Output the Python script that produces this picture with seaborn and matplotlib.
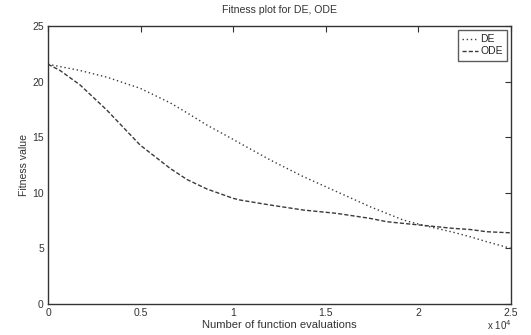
import matplotlib
matplotlib.use("Agg")
import matplotlib.pyplot as plt
import seaborn as sns
import pandas as pd

evals = [0.0, 0.065, 0.173, 0.317, 0.497, 0.659, 0.75, 0.857, 1.0, 1.037, 1.2, 1.379, 1.559, 1.739, 1.829, 1.918, 2.009, 2.099, 2.189, 2.279, 2.369, 2.5]
de = [21.56, 21.35, 21.0, 20.4, 19.4, 18.1, 17.2, 16.1, 14.8, 14.45, 12.95, 11.45, 10.1, 8.75, 8.15, 7.55, 7.15, 6.8, 6.45, 6.05, 5.6, 5.0]
ode = [21.56, 21.0, 19.7, 17.45, 14.3, 12.2, 11.2, 10.35, 9.5, 9.35, 8.9, 8.45, 8.15, 7.7, 7.4, 7.25, 7.1, 6.95, 6.8, 6.7, 6.5, 6.4]
series = ["DE", "ODE"]

df = pd.concat([
    pd.DataFrame({"x": evals, "y": de, "method": series[0]}),
    pd.DataFrame({"x": evals, "y": ode, "method": series[1]}),
])

sns.set_style("white")
plt.rcParams['font.family'] = ['Liberation Sans', 'DejaVu Sans']

fig = plt.figure(figsize=(5.31, 3.35), dpi=100)
ax = fig.add_axes([0.0904, 0.0925, 0.872, 0.8299])

sns.lineplot(data=df, x="x", y="y", hue="method", style="method",
             palette={"DE": "#3a3a3a", "ODE": "#3a3a3a"},
             dashes={"DE": (1, 2), "ODE": (3, 1.5)},
             linewidth=1.0, ax=ax, legend=True)

ax.set_xlim(0, 2.5)
ax.set_ylim(0, 25)
ax.set_xticks([0, 0.5, 1, 1.5, 2, 2.5])
ax.set_xticklabels(["0", "0.5", "1", "1.5", "2", "2.5"])
ax.set_yticks([0, 5, 10, 15, 20, 25])
ax.tick_params(direction="in", length=4, width=0.8, labelsize=7.5, colors="#333333",
               top=True, right=True, pad=3)
for s in ax.spines.values():
    s.set_color("#333333")
    s.set_linewidth(1.0)

ax.set_title("Fitness plot for DE, ODE", fontsize=7.6, color="#333333", pad=9)
ax.set_xlabel("Number of function evaluations", fontsize=8, color="#333333", labelpad=1)
ax.set_ylabel("Fitness value", fontsize=7.6, color="#333333", labelpad=2)
ax.text(1.0, -0.05, r"x 10$^4$", transform=ax.transAxes, ha="right", va="top",
        fontsize=7, color="#333333")

leg = ax.legend(loc="upper right", fontsize=7.5, handlelength=1.5, handletextpad=0.2,
                borderpad=0.4, labelspacing=0.2, frameon=True, fancybox=False,
                borderaxespad=0.4)
leg.get_frame().set_edgecolor("#333333")
leg.get_frame().set_linewidth(1.0)

fig.savefig("out.png", dpi=100)
